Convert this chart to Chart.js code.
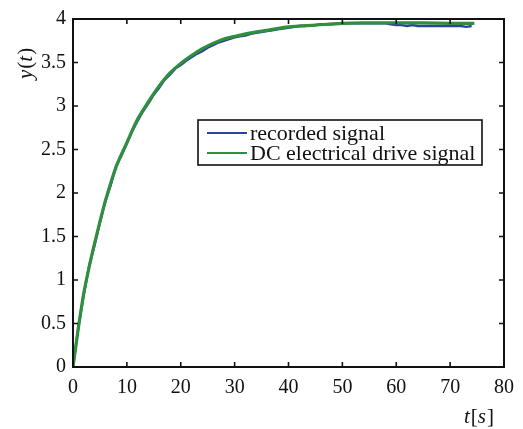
<!DOCTYPE html>
<html>
<head>
<meta charset="utf-8">
<script src="https://cdn.jsdelivr.net/npm/chart.js@4.4.1/dist/chart.umd.min.js"></script>
<style>
  body { margin: 0; background: #fff; }
  #wrap { width: 523px; height: 429px; }
</style>
</head>
<body>
<div id="wrap"><canvas id="plot" width="523" height="429"></canvas></div>
<script>
"use strict";
// series
let seriesNames = ["recorded signal", "DC electrical drive signal"];
let seriesColors = ["#2a449e", "#2f8f3e"];

let driveTime = [0, 1, 2, 3, 4, 5, 6, 8, 10, 12, 14, 16, 18, 20, 22, 24, 26, 28, 30, 33, 36, 40, 45, 50, 55, 60, 65, 70, 74.5];
let driveValue = [0, 0.45, 0.85, 1.15, 1.42, 1.67, 1.91, 2.30, 2.58, 2.85, 3.05, 3.23, 3.38, 3.49, 3.58, 3.66, 3.72, 3.77, 3.80, 3.84, 3.87, 3.91, 3.93, 3.95, 3.955, 3.957, 3.955, 3.95, 3.95];

let recordedTime = [0, 1, 2, 3, 4, 5, 6, 7, 8, 9, 10, 11, 12, 13, 14, 15, 16, 17, 18, 19,
  20, 21, 22, 23, 24, 25, 26, 27, 28, 29, 30, 31, 32, 33, 34, 35, 36, 37, 38, 39,
  40, 41, 42, 43, 44, 45, 46, 47, 48, 49, 50, 51, 52, 53, 54, 55, 56, 57, 58, 59,
  60, 61, 62, 63, 64, 65, 66, 67, 68, 69, 70, 71, 72, 73, 74];
let recordedValue = [0, 0.46, 0.83, 1.16, 1.40, 1.66, 1.90, 2.09, 2.31, 2.43, 2.57, 2.71, 2.83, 2.94, 3.03, 3.13, 3.21, 3.30, 3.36, 3.43,
  3.47, 3.52, 3.56, 3.60, 3.63, 3.67, 3.70, 3.73, 3.75, 3.77, 3.79, 3.80, 3.81, 3.83, 3.84, 3.85, 3.86, 3.87, 3.88, 3.89,
  3.90, 3.91, 3.92, 3.92, 3.93, 3.93, 3.94, 3.94, 3.94, 3.95, 3.95, 3.95, 3.95, 3.95, 3.95, 3.95, 3.95, 3.95, 3.95, 3.94,
  3.93, 3.93, 3.92, 3.93, 3.92, 3.92, 3.92, 3.92, 3.92, 3.92, 3.92, 3.92, 3.92, 3.91, 3.92];

let xTicks = [0, 10, 20, 30, 40, 50, 60, 70, 80];
let yTicks = [0, 0.5, 1, 1.5, 2, 2.5, 3, 3.5, 4];

let serif = "'Liberation Serif', 'DejaVu Serif', serif";

function makePoints(xs, ys) {
  let pts = [];
  for (let i = 0; i < xs.length; i++) {
    pts.push({ x: xs[i], y: ys[i] });
  }
  return pts;
}

// draws the box, the inward ticks, axis names and the legend box
let matlabFrame = {
  id: "matlabFrame",
  afterDraw(chart) {
    let ctx = chart.ctx;
    let area = chart.chartArea;
    let xs = chart.scales.x;
    let ys = chart.scales.y;
    ctx.save();
    ctx.strokeStyle = "#111";
    ctx.lineWidth = 2;
    ctx.strokeRect(area.left, area.top, area.right - area.left, area.bottom - area.top);

    ctx.lineWidth = 1.6;
    let len = 5;
    ctx.beginPath();
    xTicks.forEach(v => {
      let px = xs.getPixelForValue(v);
      ctx.moveTo(px, area.bottom); ctx.lineTo(px, area.bottom - len);
      ctx.moveTo(px, area.top); ctx.lineTo(px, area.top + len);
    });
    yTicks.forEach(v => {
      let py = ys.getPixelForValue(v);
      ctx.moveTo(area.left, py); ctx.lineTo(area.left + len, py);
      ctx.moveTo(area.right, py); ctx.lineTo(area.right - len, py);
    });
    ctx.stroke();

    // axis names
    ctx.fillStyle = "#111";
    ctx.textBaseline = "alphabetic";
    drawParts(ctx, [["t", true], ["[", false], ["s", true], ["]", false]], 464, 423);

    ctx.save();
    ctx.translate(32, 79);
    ctx.rotate(-Math.PI / 2);
    drawParts(ctx, [["y", true], ["(", false], ["t", true], [")", false]], 0, 0);
    ctx.restore();

    // legend
    let lx = 198, ly = 120, lw = 284, lh = 45;
    ctx.fillStyle = "#fff";
    ctx.fillRect(lx, ly, lw, lh);
    ctx.strokeStyle = "#111";
    ctx.lineWidth = 1.6;
    ctx.strokeRect(lx, ly, lw, lh);
    ctx.font = "22px " + serif;
    chart.data.datasets.slice().reverse().forEach((ds, i) => {
      let cy = ly + 13 + i * 20;
      ctx.strokeStyle = ds.borderColor;
      ctx.lineWidth = 2;
      ctx.beginPath();
      ctx.moveTo(lx + 9, cy);
      ctx.lineTo(lx + 49, cy);
      ctx.stroke();
      ctx.fillStyle = "#111";
      ctx.textBaseline = "middle";
      ctx.fillText(ds.label, lx + 52, cy + 1);
    });
    ctx.restore();
  }
};

function drawParts(ctx, parts, x, y) {
  parts.forEach(p => {
    ctx.font = (p[1] ? "italic " : "") + "21px " + serif;
    ctx.fillText(p[0], x, y);
    x += ctx.measureText(p[0]).width + (p[1] ? 1 : 0);
  });
}

let ctx = document.getElementById("plot").getContext("2d");
let chart = new Chart(ctx, {
  type: "line",
  data: {
    datasets: [
      {
        label: seriesNames[1],
        data: makePoints(driveTime, driveValue),
        borderColor: seriesColors[1],
        borderWidth: 3.2,
        pointRadius: 0,
        tension: 0.3,
        order: 0
      },
      {
        label: seriesNames[0],
        data: makePoints(recordedTime, recordedValue),
        borderColor: seriesColors[0],
        borderWidth: 2.4,
        pointRadius: 0,
        tension: 0,
        order: 1
      }
    ]
  },
  options: {
    responsive: false,
    animation: false,
    layout: { padding: { top: 17, right: 19, left: 0, bottom: 0 } },
    plugins: { legend: { display: false }, tooltip: { enabled: false } },
    scales: {
      x: {
        type: "linear",
        min: 0,
        max: 80,
        grid: { display: false, drawTicks: false },
        border: { display: false },
        afterFit: s => { s.height = 62; },
        afterBuildTicks: s => { s.ticks = xTicks.map(v => ({ value: v })); },
        ticks: { padding: 9, color: "#111", font: { family: serif, size: 20 }, callback: v => String(v) }
      },
      y: {
        min: 0,
        max: 4,
        grid: { display: false, drawTicks: false },
        border: { display: false },
        afterFit: s => { s.width = 73; },
        afterBuildTicks: s => { s.ticks = yTicks.map(v => ({ value: v })); },
        ticks: { padding: 7, color: "#111", font: { family: serif, size: 20 }, callback: v => String(v) }
      }
    }
  },
  plugins: [matlabFrame]
});
</script>
</body>
</html>
